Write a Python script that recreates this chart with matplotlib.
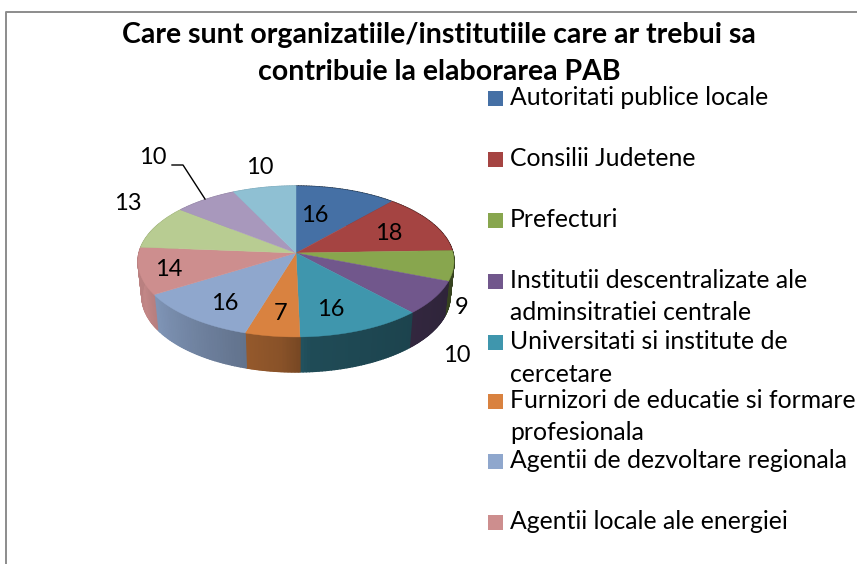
import numpy as np
import matplotlib
matplotlib.use('Agg')
import matplotlib.pyplot as plt
from matplotlib.collections import PolyCollection
from matplotlib.colors import to_rgb
from matplotlib.patches import Rectangle

plt.rcParams['font.family'] = ['Lato', 'DejaVu Sans']

# Data
title_lines = ['Care sunt organizatiile/institutiile care ar trebui sa',
               'contribuie la elaborarea PAB']
values = [16, 18, 9, 10, 16, 7, 16, 14, 13, 10, 10]
slice_colors = ['#4570a5', '#a54442', '#88a64e', '#71578c', '#3f96ad', '#d98240',
                '#8fa7cd', '#cd8e8e', '#b8cc92', '#a898bc', '#8fc0d3']
legend_labels = ['Autoritati publice locale', 'Consilii Judetene', 'Prefecturi',
                 'Institutii descentralizate ale\nadminsitratiei centrale',
                 'Universitati si institute de\ncercetare',
                 'Furnizori de educatie si formare\nprofesionala',
                 'Agentii de dezvoltare regionala', 'Agentii locale ale energiei']
legend_y = [98, 159, 220, 281, 342, 401, 461, 522]
label_pos = [(315, 216), (389, 233), (462, 308), (457, 355), (331, 310), (281, 314),
             (225, 304), (169, 269), (128, 204), (153, 158), (260, 168)]

# Pie geometry, in pixels of the picture
hub_x, hub_y = 296, 253
scale_x, scale_y = 157, 74.5
persp = 0.1126
depth = 35
bottom_shrink = 0.975


def project(t):
    # t is clockwise from 12 o'clock, circle seen in perspective
    w = 1 + persp * np.cos(t)
    return hub_x + scale_x * np.sin(t) / w, hub_y - scale_y * np.cos(t) / w


def project_bottom(t):
    x, y = project(t)
    return hub_x + (x - hub_x) * bottom_shrink, y + depth


def side_shade(t):
    return np.interp(np.degrees(t), [90, 175, 185, 200, 250, 270], [0.38, 0.5, 0.63, 0.7, 0.95, 0.9])


fig = plt.figure(figsize=(8.57, 5.64), dpi=100)
ax = fig.add_axes([0, 0, 1, 1])
ax.set_xlim(0, 857)
ax.set_ylim(564, 0)
ax.axis('off')

# Chart frame
ax.plot([6.5, 6.5, 857], [564, 11.5, 11.5], color='#8c8c8c', lw=1.4, solid_capstyle='butt')

edges = 2 * np.pi * np.cumsum([0] + values) / sum(values)

# Sides first, the tops are painted over the back part
for i, color in enumerate(slice_colors):
    ts = np.linspace(edges[i], edges[i + 1], 40)
    polys, cols = [], []
    for a, b in zip(ts[:-1], ts[1:]):
        polys.append([project(a), project(b), project_bottom(b), project_bottom(a)])
        shade = side_shade((a + b) / 2)
        cols.append(tuple(c * shade for c in to_rgb(color)))
    ax.add_collection(PolyCollection(polys, facecolors=cols, edgecolors=cols, linewidths=1.0))

for i, color in enumerate(slice_colors):
    ts = np.linspace(edges[i], edges[i + 1], 60)
    xs, ys = project(ts)
    ax.fill(np.r_[hub_x, xs], np.r_[hub_y, ys], color=color, lw=0.3)

# Data labels
for v, (x, y) in zip(values, label_pos):
    ax.text(x, y, str(v), ha='center', va='center', fontsize=17, color='black')
ax.plot([172, 183, 205], [165, 165, 199], color='black', lw=1)

# Title
ax.text(439, 43, title_lines[0], ha='center', va='baseline', fontsize=20.5, fontweight='bold')
ax.text(439, 80, title_lines[1], ha='center', va='baseline', fontsize=20.5, fontweight='bold')

# Legend, only the first entries fit in the picture
for label, y, color in zip(legend_labels, legend_y, slice_colors):
    ax.add_patch(Rectangle((488, y - 7.5), 15, 15, fc=color, ec='none'))
    for k, line in enumerate(label.split('\n')):
        ax.text(510, y + 7 + 32.5 * k, line, ha='left', va='baseline', fontsize=17.8)

fig.savefig('out.png', dpi=100)
